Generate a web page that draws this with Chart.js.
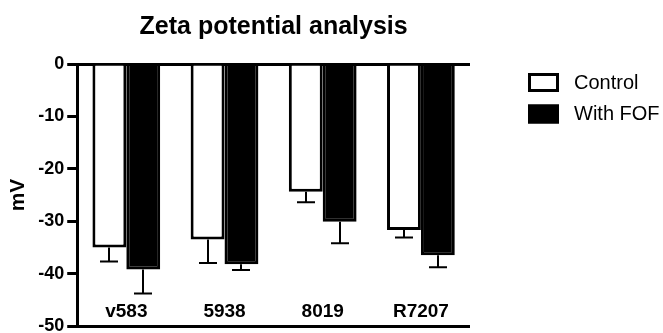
<!DOCTYPE html>
<html>
<head>
<meta charset="utf-8">
<script src="https://cdn.jsdelivr.net/npm/chart.js@4.4.1/dist/chart.umd.min.js"></script>
<style>
  body { margin: 0; background: #fff; }
  #wrap { width: 663px; height: 333px; }
</style>
</head>
<body>
<div id="wrap"><canvas id="zetaChart" width="663" height="333"></canvas></div>
<script>
const FONT = "'Liberation Sans', Arial, sans-serif";

// ================= DATA =================
const categories = ["v583", "5938", "8019", "R7207"];
const seriesNames = ["Control", "With FOF"];
const controlValues = [-35.0, -33.5, -24.4, -31.7];
const controlErrors = [2.7, 4.5, 2.0, 1.4];
const fofValues = [-39.2, -38.2, -30.1, -36.5];
const fofErrors = [4.6, 1.1, 4.1, 2.3];
const yTicks = [0, -10, -20, -30, -40, -50];

/* ================= PLUGINS ================= */

// one-sided error bars (downward, away from zero)
const errorBars = {
    id: "errorBars",
    afterDatasetsDraw(chart) {
        const ctx = chart.ctx;
        const y = chart.scales.y;
        const errs = [controlErrors, fofErrors];
        ctx.save();
        ctx.strokeStyle = "#000";
        ctx.lineWidth = 2;
        chart.data.datasets.forEach((ds, di) => {
            const meta = chart.getDatasetMeta(di);
            meta.data.forEach((bar, i) => {
                const v = ds.data[i];
                const end = y.getPixelForValue(v - errs[di][i]);
                const x = Math.round(bar.x);
                ctx.beginPath();
                ctx.moveTo(x, bar.y);
                ctx.lineTo(x, end);
                ctx.moveTo(x - 9, end);
                ctx.lineTo(x + 9, end);
                ctx.stroke();
            });
        });
        ctx.restore();
    }
};

// category names sit inside the plot, just above the bottom line
const categoryLabels = {
    id: "categoryLabels",
    afterDraw(chart) {
        const ctx = chart.ctx;
        const x = chart.scales.x;
        const y = chart.scales.y;
        ctx.save();
        ctx.font = "bold 19px " + FONT;
        ctx.fillStyle = "#000";
        ctx.textAlign = "center";
        ctx.textBaseline = "middle";
        categories.forEach((c, i) => {
            ctx.fillText(c, x.getPixelForValue(i), y.getPixelForValue(-47.3));
        });
        ctx.restore();
    }
};

// legend to the right of the plot
const sideLegend = {
    id: "sideLegend",
    afterDraw(chart) {
        const ctx = chart.ctx;
        ctx.save();
        ctx.font = "20px " + FONT;
        ctx.textBaseline = "middle";
        chart.data.datasets.forEach((ds, i) => {
            const top = 73 + i * 31.5;
            ctx.fillStyle = ds.backgroundColor;
            ctx.fillRect(528, top, 31, 19);
            ctx.strokeStyle = "#000";
            ctx.lineWidth = 3;
            ctx.strokeRect(529.5, top + 1.5, 28, 16);
            ctx.fillStyle = "#000";
            ctx.fillText(ds.label, 574, top + 10);
        });
        ctx.restore();
    }
};

/* ================= CHART ================= */

new Chart(document.getElementById("zetaChart"), {
    type: "bar",
    data: {
        labels: categories,
        datasets: [{
            label: seriesNames[0],
            data: controlValues,
            backgroundColor: "#ffffff",
            borderColor: "#000000",
            borderWidth: 3
        }, {
            label: seriesNames[1],
            data: fofValues,
            backgroundColor: "#000000",
            borderColor: "#000000",
            borderWidth: 3
        }]
    },
    options: {
        responsive: false,
        animation: false,
        layout: {
            padding: { left: 2, right: 193, top: 0, bottom: 7 }
        },
        datasets: {
            bar: { categoryPercentage: 0.69, barPercentage: 1.0 }
        },
        plugins: {
            legend: { display: false },
            tooltip: { enabled: false },
            title: {
                display: true,
                text: "Zeta potential analysis",
                fullSize: false,
                color: "#000",
                font: { family: FONT, size: 25, weight: "bold" },
                padding: { top: 12, bottom: 22 }
            }
        },
        scales: {
            x: {
                display: false
            },
            y: {
                min: -50,
                max: 0,
                afterBuildTicks(axis) {
                    axis.ticks = yTicks.map(v => ({ value: v }));
                },
                afterFit(axis) {
                    // don't let the end tick labels push the plot inwards
                    axis.paddingTop = 0;
                    axis.paddingBottom = 0;
                },
                ticks: {
                    color: "#000",
                    padding: 3,
                    font: { family: FONT, size: 18, weight: "bold" }
                },
                border: { display: true, color: "#000", width: 3 },
                grid: {
                    color: ctx => (ctx.tick && (ctx.tick.value === 0 || ctx.tick.value === -50)) ? "#000" : "rgba(0,0,0,0)",
                    tickColor: "#000",
                    tickLength: 10,
                    lineWidth: 3,
                    tickWidth: 3
                },
                title: {
                    display: true,
                    text: "mV",
                    color: "#000",
                    font: { family: FONT, size: 21, weight: "bold" },
                    padding: 4
                }
            }
        }
    },
    plugins: [errorBars, categoryLabels, sideLegend]
});
</script>
</body>
</html>
